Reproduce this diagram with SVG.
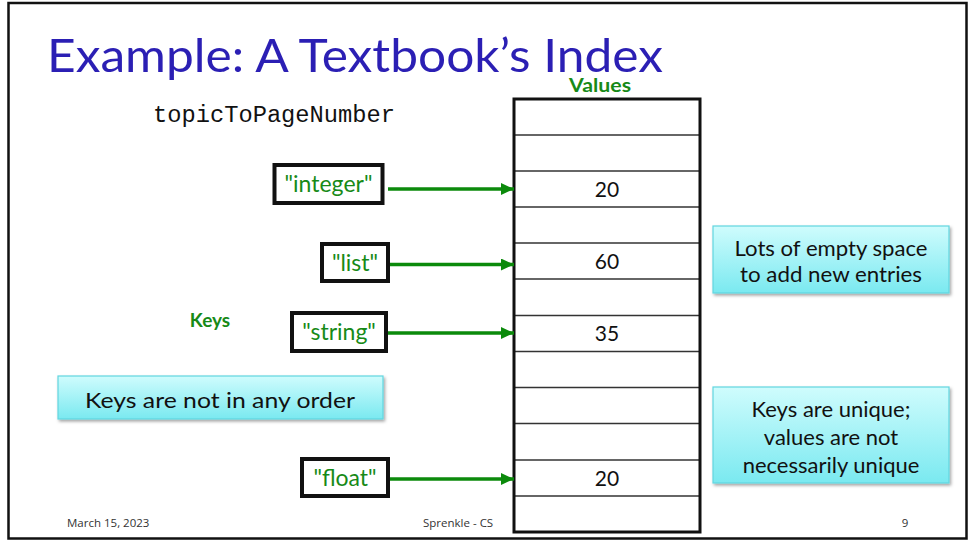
<svg xmlns="http://www.w3.org/2000/svg" width="968" height="543" viewBox="0 0 968 543">
<style>
.title{font-family:Lato,"Open Sans","Liberation Sans",sans-serif;font-size:47px;fill:#2b1fb4}
.green{font-family:Lato,"Open Sans","Liberation Sans",sans-serif;fill:#178a17}
.bold{font-weight:bold;font-size:19px}
.key{font-size:23px;text-anchor:middle}
.keybox{fill:#fff;stroke:#111;stroke-width:4}
.val{font-family:Lato,"Open Sans","Liberation Sans",sans-serif;font-size:21px;fill:#111;text-anchor:middle}
.row{stroke:#333;stroke-width:1.5}
.note{font-family:Lato,"Open Sans","Liberation Sans",sans-serif;font-size:22px;fill:#111;text-anchor:middle}
.callout{fill:url(#cyan);stroke:#62d6df;stroke-width:1.2;filter:url(#sh)}
.foot{font-family:"Open Sans","Liberation Sans",sans-serif;font-size:11.5px;fill:#333}
.conn{stroke:#0b8a0b;stroke-width:3.5;fill:none;marker-end:url(#ah)}
</style>
<defs>
<linearGradient id="cyan" x1="0" y1="0" x2="0" y2="1">
<stop offset="0" stop-color="#cffcfd"/>
<stop offset="1" stop-color="#7ae9f0"/>
</linearGradient>
<filter id="sh" x="-10%" y="-10%" width="120%" height="130%">
<feDropShadow dx="1.5" dy="2" stdDeviation="1.5" flood-color="#000" flood-opacity="0.35"/>
</filter>
<marker id="ah" markerUnits="userSpaceOnUse" markerWidth="14" markerHeight="12" refX="13" refY="6" orient="auto">
<path d="M0,0 L13,6 L0,12 Z" fill="#0b8a0b"/>
</marker>
</defs>
<rect x="0" y="0" width="968" height="543" fill="#fff"/>
<rect x="8.5" y="3" width="958" height="535.5" fill="none" stroke="#111" stroke-width="2.5"/>
<text class="title" x="47" y="72" textLength="616" lengthAdjust="spacingAndGlyphs">Example: A Textbook’s Index</text>
<text x="153" y="122" font-family="'Liberation Mono','DejaVu Sans Mono',monospace" font-size="23" fill="#111" textLength="242" lengthAdjust="spacingAndGlyphs">topicToPageNumber</text>
<text class="green bold" x="600" y="92" text-anchor="middle" textLength="62" lengthAdjust="spacingAndGlyphs">Values</text>
<text class="green bold" x="210" y="327" text-anchor="middle">Keys</text>
<g id="footer">
<text class="foot" x="67" y="527">March 15, 2023</text>
<text class="foot" x="423" y="527">Sprenkle - CS</text>
<text class="foot" x="905" y="527" text-anchor="middle">9</text>
</g>
<g id="table">
<rect x="514" y="99" width="186" height="433" fill="#fff" stroke="none"/>
<line class="row" x1="514" y1="135" x2="700" y2="135"/>
<line class="row" x1="514" y1="171" x2="700" y2="171"/>
<line class="row" x1="514" y1="207" x2="700" y2="207"/>
<line class="row" x1="514" y1="243" x2="700" y2="243"/>
<line class="row" x1="514" y1="279" x2="700" y2="279"/>
<line class="row" x1="514" y1="315.5" x2="700" y2="315.5"/>
<line class="row" x1="514" y1="351.5" x2="700" y2="351.5"/>
<line class="row" x1="514" y1="387.5" x2="700" y2="387.5"/>
<line class="row" x1="514" y1="423.5" x2="700" y2="423.5"/>
<line class="row" x1="514" y1="460" x2="700" y2="460"/>
<line class="row" x1="514" y1="496" x2="700" y2="496"/>
<rect x="514" y="99" width="186" height="433" fill="none" stroke="#111" stroke-width="3"/>
<text class="val" x="607" y="197">20</text>
<text class="val" x="607" y="269">60</text>
<text class="val" x="607" y="341">35</text>
<text class="val" x="607" y="486">20</text>
</g>
<g id="key-integer">
<rect class="keybox" x="274.5" y="165" width="108" height="38"/>
<text class="green key" x="328.5" y="192">"integer"</text>
</g>
<g id="key-list">
<rect class="keybox" x="322" y="244" width="66" height="37"/>
<text class="green key" x="355" y="271">"list"</text>
</g>
<g id="key-string">
<rect class="keybox" x="292" y="313" width="94" height="38"/>
<text class="green key" x="339" y="340">"string"</text>
</g>
<g id="key-float">
<rect class="keybox" x="302" y="459" width="86" height="37"/>
<text class="green key" x="345" y="486">"float"</text>
</g>
<g id="connectors">
<line class="conn" x1="388" y1="189" x2="514" y2="189"/>
<line class="conn" x1="390" y1="264.5" x2="514" y2="264.5"/>
<line class="conn" x1="388" y1="333" x2="514" y2="333"/>
<line class="conn" x1="390" y1="479" x2="514" y2="479"/>
</g>
<g id="note-empty">
<rect class="callout" x="713" y="226" width="236" height="67"/>
<text class="note" x="831" y="256" textLength="193" lengthAdjust="spacingAndGlyphs">Lots of empty space</text>
<text class="note" x="831" y="282" textLength="182" lengthAdjust="spacingAndGlyphs">to add new entries</text>
</g>
<g id="note-unique">
<rect class="callout" x="713" y="387" width="236" height="96"/>
<text class="note" x="831" y="417">Keys are unique;</text>
<text class="note" x="831" y="445">values are not</text>
<text class="note" x="831" y="473">necessarily unique</text>
</g>
<g id="note-order">
<rect class="callout" x="58" y="376" width="325" height="43"/>
<text class="note" x="220" y="408" font-size="24" textLength="270" lengthAdjust="spacingAndGlyphs">Keys are not in any order</text>
</g>
</svg>
